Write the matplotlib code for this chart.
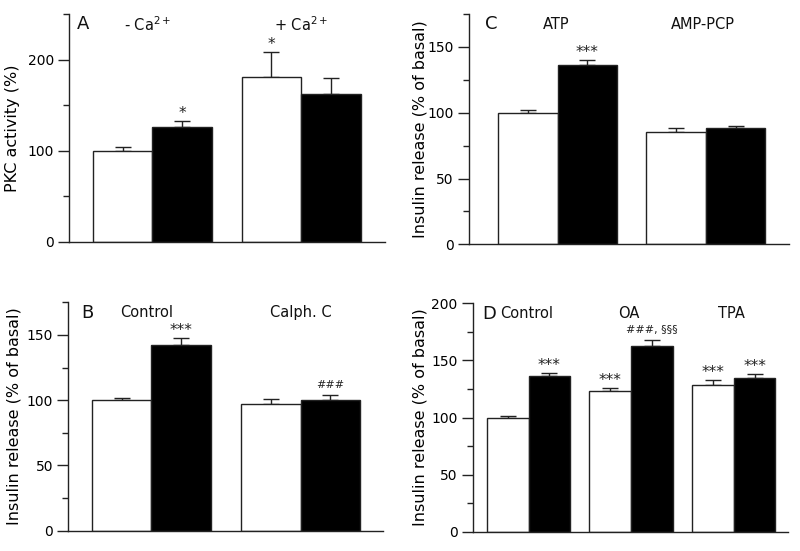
import matplotlib
matplotlib.use("Agg")
import matplotlib.pyplot as plt
from matplotlib.ticker import MultipleLocator

plt.rcParams['font.family'] = ['DejaVu Sans']
plt.rcParams['mathtext.default'] = 'regular'

# Panel A: PKC activity
a_groups = [r'- Ca$^{2+}$', r'+ Ca$^{2+}$']
a_white = [100, 181]
a_white_err = [4, 27]
a_black = [126, 162]
a_black_err = [7, 18]
a_white_marks = ['', '*']
a_black_marks = ['*', '']

# Panel B: calphostin C
b_groups = ['Control', 'Calph. C']
b_white = [100, 97]
b_white_err = [2, 3.8]
b_black = [142, 100]
b_black_err = [6, 3.8]
b_white_marks = ['', '']
b_black_marks = ['***', '###']

# Panel C: ATP / AMP-PCP
c_groups = ['ATP', 'AMP-PCP']
c_white = [100, 85.5]
c_white_err = [2, 2.8]
c_black = [136.5, 88]
c_black_err = [3.8, 2]
c_white_marks = ['', '']
c_black_marks = ['***', '']

# Panel D: okadaic acid / TPA
d_groups = ['Control', 'OA', 'TPA']
d_white = [100, 123, 128.5]
d_white_err = [1, 3.2, 4]
d_black = [136.5, 163, 134.5]
d_black_err = [2.7, 4.6, 3.8]
d_white_marks = ['', '***', '***']
d_black_marks = ['***', '###, §§§', '***']

line_col = '#222222'


def draw_panel(ax, letter, groups, white, white_err, black, black_err,
               white_marks, black_marks, ylabel, ylim, major, minor,
               spacing, xlim, ylabel_x, letter_dx=0.0, label_dx=None):
    for i in range(len(groups)):
        x0 = i * spacing
        for x, val, err, mark, fc in ((x0, white[i], white_err[i], white_marks[i], 'white'),
                                      (x0 + 1, black[i], black_err[i], black_marks[i], 'black')):
            ax.bar(x, val, width=1.0, color=fc, edgecolor=line_col, linewidth=1.0, zorder=2)
            ax.errorbar(x, val, yerr=[[0], [err]], fmt='none', ecolor=line_col,
                        elinewidth=1.0, capsize=5.5, capthick=1.0, zorder=1)
            if mark:
                star = mark.strip('*') == ''
                ax.annotate(mark, (x, val + err),
                            xytext=(0, 0 if star else 4), textcoords='offset points',
                            ha='center', va='bottom', fontsize=11 if star else 8,
                            color='#222222')
        gx = x0 + 0.5 if label_dx is None else x0 + label_dx[i]
        ax.text(gx, 0.955, groups[i], transform=ax.get_xaxis_transform(),
                ha='center', va='center', fontsize=10.5, color='#111111')
    ax.text(xlim[0] + 0.35 + letter_dx, 0.955, letter, transform=ax.get_xaxis_transform(),
            ha='center', va='center', fontsize=13, color='#111111')
    ax.set_xlim(*xlim)
    ax.set_ylim(*ylim)
    ax.yaxis.set_major_locator(MultipleLocator(major))
    ax.yaxis.set_minor_locator(MultipleLocator(minor))
    ax.set_xticks([])
    for side in ('top', 'right'):
        ax.spines[side].set_visible(False)
    for side in ('left', 'bottom'):
        ax.spines[side].set_color(line_col)
        ax.spines[side].set_linewidth(1.0)
    ax.tick_params(axis='y', which='major', length=8, width=1.0, color=line_col,
                   labelsize=10, pad=3)
    ax.tick_params(axis='y', which='minor', length=4, width=1.0, color=line_col)
    ax.set_ylabel(ylabel, fontsize=11.5)
    ax.yaxis.set_label_coords(ylabel_x, 0.5)


fig = plt.figure(figsize=(8.0, 5.51), dpi=100)

ax_a = fig.add_axes([0.0863, 0.5608, 0.395, 0.4138])
draw_panel(ax_a, 'A', a_groups, a_white, a_white_err, a_black, a_black_err,
           a_white_marks, a_black_marks, 'PKC activity (%)', (0, 250), 100, 50,
           2.5, (-0.9, 4.41), -0.155, letter_dx=-0.12, label_dx=[0.42, 0.5])

ax_c = fig.add_axes([0.5863, 0.5566, 0.40, 0.418])
draw_panel(ax_c, 'C', c_groups, c_white, c_white_err, c_black, c_black_err,
           c_white_marks, c_black_marks, 'Insulin release (% of basal)', (0, 175), 50, 25,
           2.49, (-0.99, 4.39), -0.131, letter_dx=0.02, label_dx=[0.47, 0.45])

ax_b = fig.add_axes([0.0856, 0.0368, 0.393, 0.4145])
draw_panel(ax_b, 'B', b_groups, b_white, b_white_err, b_black, b_black_err,
           b_white_marks, b_black_marks, 'Insulin release (% of basal)', (0, 175), 50, 25,
           2.5, (-0.89, 4.38), -0.151, letter_dx=-0.04, label_dx=[0.42, 0.5])

ax_d = fig.add_axes([0.5909, 0.035, 0.394, 0.4145])
draw_panel(ax_d, 'D', d_groups, d_white, d_white_err, d_black, d_black_err,
           d_white_marks, d_black_marks, 'Insulin release (% of basal)', (0, 200), 50, 25,
           2.46, (-0.84, 6.72), -0.142, letter_dx=0.05, label_dx=[0.45, 0.45, 0.45])

fig.savefig('out.png', dpi=100)
